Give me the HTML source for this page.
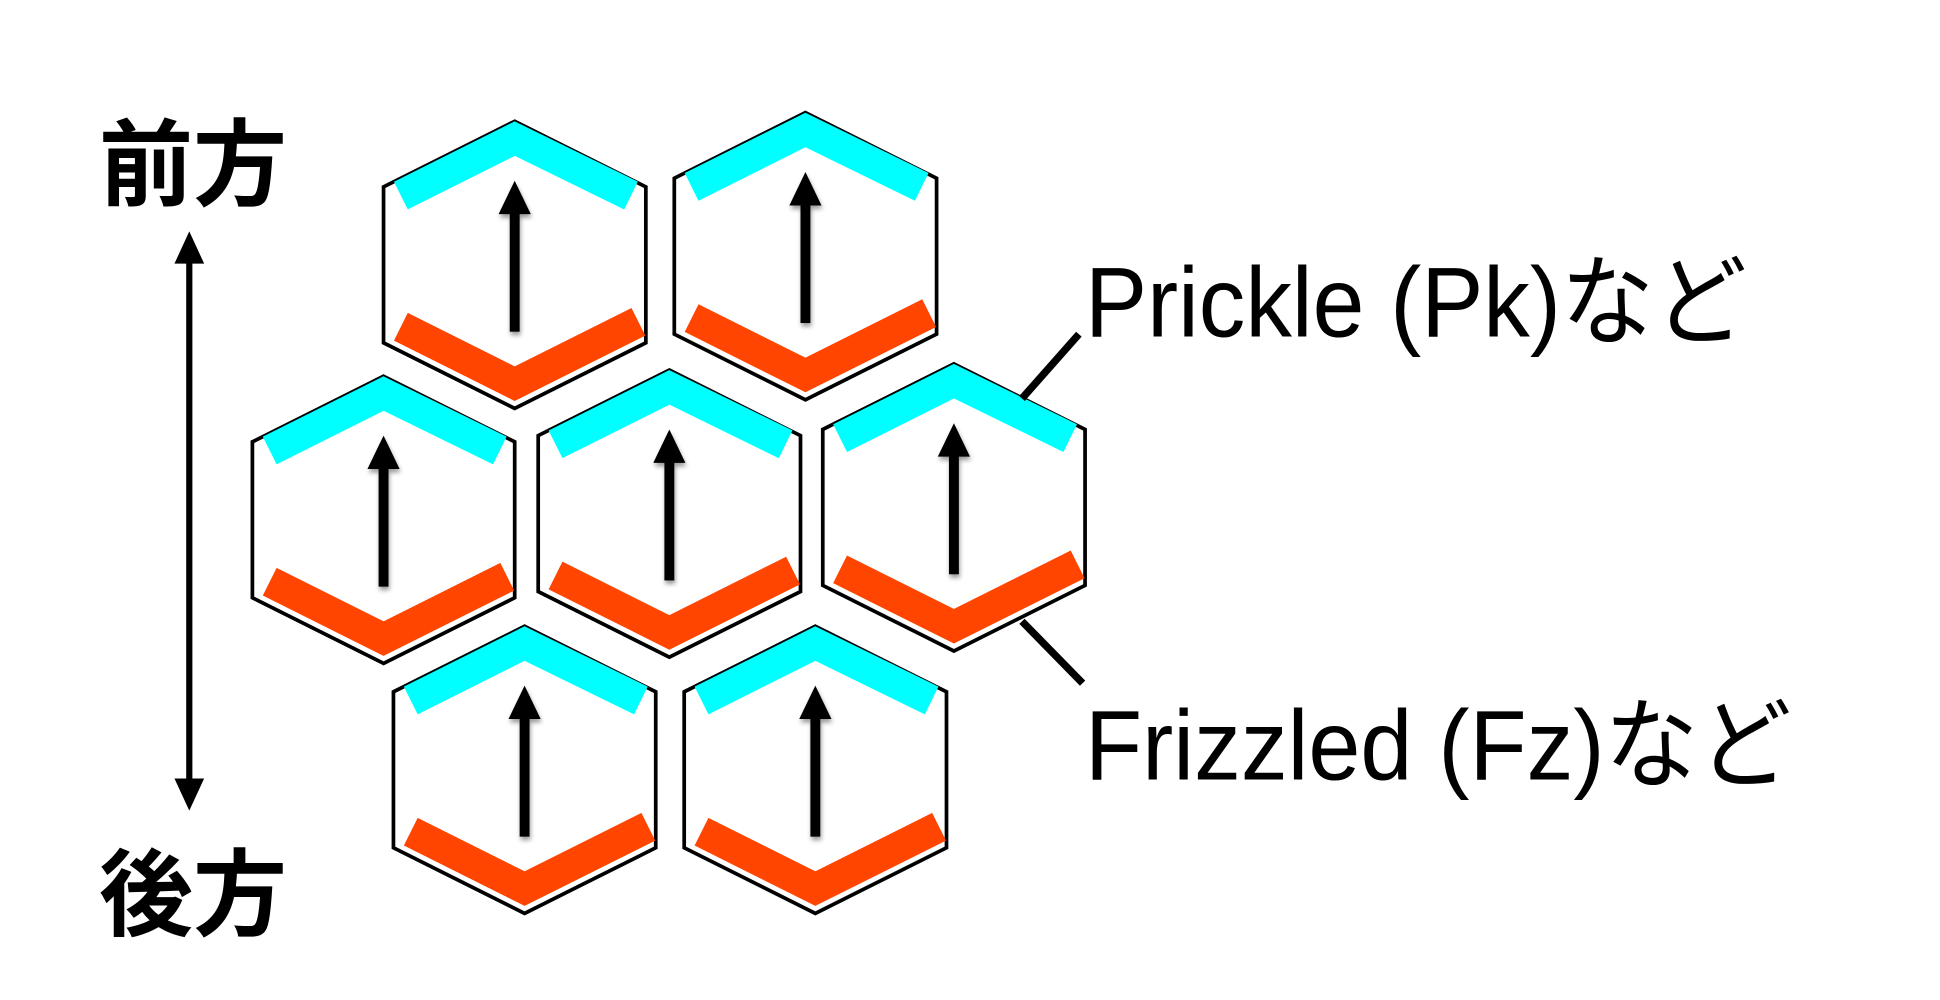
<!DOCTYPE html>
<html><head><meta charset="utf-8"><style>html,body{margin:0;padding:0;background:#fff}svg{display:block}</style></head>
<body>
<svg width="1940" height="1000" viewBox="0 0 1568 808" preserveAspectRatio="none" xmlns="http://www.w3.org/2000/svg">
<defs>
<filter id="sh" x="-50%" y="-20%" width="200%" height="140%"><feGaussianBlur in="SourceAlpha" stdDeviation="2"/><feOffset dx="1" dy="3"/><feComponentTransfer><feFuncA type="linear" slope="0.4"/></feComponentTransfer><feMerge><feMergeNode/><feMergeNode in="SourceGraphic"/></feMerge></filter>
<g id="cell">
<polygon points="0,0 106,53 106,179 0,232 -106,179 -106,53" fill="#fff" stroke="#000" stroke-width="3"/>
<polyline points="-92,60 0,14 94,60" fill="none" stroke="#00ffff" stroke-width="25"/>
<polyline points="-92,166 0,212 100,162" fill="none" stroke="#ff4500" stroke-width="25"/>
<g filter="url(#sh)">
<rect x="-4" y="72" width="8" height="98" fill="#000"/>
<polygon points="0,48 -13,75 13,75" fill="#000"/>
</g>
</g>
</defs>
<use href="#cell" x="416" y="98"/>
<use href="#cell" x="651" y="91"/>
<use href="#cell" x="310" y="304"/>
<use href="#cell" x="541" y="299"/>
<use href="#cell" x="771" y="294"/>
<use href="#cell" x="424" y="506"/>
<use href="#cell" x="659" y="506"/>
<line x1="826" y1="322" x2="872" y2="270" stroke="#000" stroke-width="6"/>
<line x1="826" y1="502" x2="875" y2="552" stroke="#000" stroke-width="6"/>
<rect x="150.5" y="208" width="5" height="424" fill="#000"/>
<polygon points="153,187 141,213 165,213" fill="#000"/>
<polygon points="153,655 141,629 165,629" fill="#000"/>
<g font-family="'Liberation Sans','Noto Sans CJK JP',sans-serif" fill="#000">
<text x="80" y="160" font-size="76" font-weight="bold" textLength="152" lengthAdjust="spacingAndGlyphs">前方</text>
<text x="80" y="750" font-size="76" font-weight="bold" textLength="152" lengthAdjust="spacingAndGlyphs">後方</text>
<text x="877" y="272" font-size="80" textLength="535" lengthAdjust="spacingAndGlyphs">Prickle (Pk)など</text>
<text x="877" y="630" font-size="80" textLength="571" lengthAdjust="spacingAndGlyphs">Frizzled (Fz)など</text>
</g>
</svg>
</body></html>
